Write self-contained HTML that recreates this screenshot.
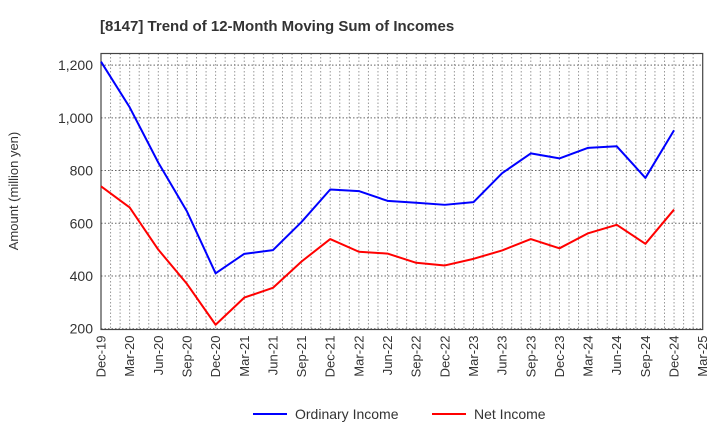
<!DOCTYPE html>
<html><head><meta charset="utf-8"><style>
body{margin:0;background:#fff;font-family:"Liberation Sans",sans-serif}
</style></head><body>
<svg id="c" width="720" height="440" xmlns="http://www.w3.org/2000/svg">
<text x="100" y="31" font-size="15" font-weight="bold" fill="#333">[8147]  Trend of 12-Month Moving Sum of Incomes</text>
<text transform="translate(18,191) rotate(-90)" text-anchor="middle" font-size="13" fill="#333">Amount (million yen)</text>
<g id="grid"></g><g id="axes"></g><g id="series"></g>
<g>
<line x1="253" y1="414" x2="287" y2="414" stroke="#0000ff" stroke-width="2"/>
<text x="295" y="419" font-size="14" fill="#333">Ordinary Income</text>
<line x1="432" y1="414" x2="466" y2="414" stroke="#ff0000" stroke-width="2"/>
<text x="474" y="419" font-size="14" fill="#333">Net Income</text>
</g>
</svg>
<script>
const categories=["Dec-19","Mar-20","Jun-20","Sep-20","Dec-20","Mar-21","Jun-21","Sep-21","Dec-21","Mar-22","Jun-22","Sep-22","Dec-22","Mar-23","Jun-23","Sep-23","Dec-23","Mar-24","Jun-24","Sep-24","Dec-24","Mar-25"];
const ordinaryIncome=[1213,1040,830,645,410,484,498,605,728,722,685,678,670,680,790,865,846,886,892,772,953];
const netIncome=[740,660,500,370,215,318,355,455,540,492,485,450,440,465,497,540,505,562,594,522,652];
const yTicks=[200,400,600,800,1000,1200];
const yTickLabels=["200","400","600","800","1,000","1,200"];
const L=101,R=702.7,T=53.5,B=329.5,yMin=197,yMax=1244;
const NS="http://www.w3.org/2000/svg";
const step=(R-L)/(categories.length-1);
const xs=i=>L+i*step;
const ys=v=>B-(v-yMin)/(yMax-yMin)*(B-T);
function mk(tag,attrs,parent){const e=document.createElementNS(NS,tag);for(const k in attrs)e.setAttribute(k,attrs[k]);parent.appendChild(e);return e;}
const grid=document.getElementById('grid'),axes=document.getElementById('axes'),ser=document.getElementById('series');
for(let m=1;m<(categories.length-1)*3;m++){const x=L+m*step/3;
const g=mk('line',{x1:x,x2:x,y1:T,y2:B,stroke:'#999','stroke-dasharray':'1.5,2','stroke-width':1},grid);
}
yTicks.forEach((v,i)=>{const y=ys(v);
const g=mk('line',{x1:L,x2:R,y1:y,y2:y,stroke:'#666','stroke-dasharray':'1.5,2','stroke-width':1},grid);

const t=mk('text',{x:L-8,y:y+5,'text-anchor':'end','font-size':14,fill:'#333'},axes);t.textContent=yTickLabels[i];
});
const fr=mk('rect',{x:L,y:T,width:R-L,height:B-T,fill:'none',stroke:'#444','stroke-width':1.2},axes);

categories.forEach((c,i)=>{const x=xs(i);
const t=mk('text',{transform:`translate(${x+4.5},${B+6}) rotate(-90)`,'text-anchor':'end','font-size':13,fill:'#333'},axes);t.textContent=c;
});
function line(arr,color,name){const p=mk('polyline',{points:arr.map((v,i)=>xs(i)+','+ys(v)).join(' '),fill:'none',stroke:color,'stroke-width':2,'stroke-linejoin':'round'},ser);
}
line(ordinaryIncome,'#0000ff','ordinary-income-line');
line(netIncome,'#ff0000','net-income-line');
</script>
</body></html>
